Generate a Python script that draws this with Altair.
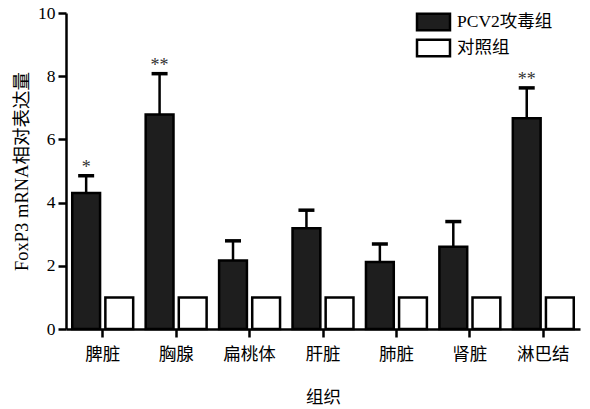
import altair as alt
import pandas as pd

# Relative FoxP3 mRNA expression per tissue
tissues = ["脾脏", "胸腺", "扁桃体", "肝脏", "肺脏", "肾脏", "淋巴结"]
groups = ["PCV2攻毒组", "对照组"]
pcv2_mean = [4.30, 6.79, 2.17, 3.19, 2.12, 2.60, 6.67]
pcv2_sd = [0.55, 1.29, 0.62, 0.57, 0.57, 0.80, 0.96]
control_mean = [1.0, 1.0, 1.0, 1.0, 1.0, 1.0, 1.0]
significance = ["*", "**", "", "", "", "", "**"]

rows = []
for t, m, s, k in zip(tissues, pcv2_mean, pcv2_sd, significance):
    rows.append({"组织": t, "组别": groups[0], "值": m, "上限": m + s, "标记": k})
for t, c in zip(tissues, control_mean):
    rows.append({"组织": t, "组别": groups[1], "值": c, "上限": c, "标记": ""})
df = pd.DataFrame(rows)
pcv2 = df[df["组别"] == groups[0]]

FONT = "Liberation Serif, Noto Sans CJK SC"

x_enc = alt.X(
    "组织:N",
    sort=tissues,
    scale=alt.Scale(paddingInner=0.17, paddingOuter=0.085),
    axis=alt.Axis(title="组织", labelAngle=0, labelPadding=8, titlePadding=26),
)
xoff_enc = alt.XOffset(
    "组别:N",
    sort=groups,
    scale=alt.Scale(domain=groups, paddingInner=0.16, paddingOuter=0),
)
y_enc = alt.Y(
    "值:Q",
    scale=alt.Scale(domain=[0, 10]),
    axis=alt.Axis(values=[0, 2, 4, 6, 8, 10], title="FoxP3 mRNA相对表达量",
                  labelPadding=3, titlePadding=6, titleFontSize=18.5),
)

bars = alt.Chart(df).mark_bar(stroke="black", strokeWidth=2.5).encode(
    x=x_enc,
    xOffset=xoff_enc,
    y=y_enc,
    fill=alt.Fill(
        "组别:N",
        sort=groups,
        scale=alt.Scale(domain=groups, range=["#1e1e1e", "#ffffff"]),
        legend=alt.Legend(
            title=None,
            orient="none",
            legendX=358,
            legendY=-0.5,
            padding=0,
            symbolType="M-2,-1H2V1H-2Z",
            symbolSize=272,
            symbolStrokeColor="black",
            symbolStrokeWidth=2.5,
            symbolOpacity=1,
            labelFont=FONT,
            labelFontSize=17.5,
            labelColor="black",
            labelOffset=14,
            rowPadding=-1,
        ),
    ),
)

err = alt.Chart(pcv2).mark_rule(color="black", strokeWidth=2.5).encode(
    x=x_enc, xOffset=xoff_enc, y="值:Q", y2="上限:Q"
)

cap = alt.Chart(pcv2).mark_tick(color="black", size=16, thickness=3.5, opacity=1).encode(
    x=x_enc, xOffset=xoff_enc, y="上限:Q"
)

stars = alt.Chart(pcv2).mark_text(
    font=FONT, fontSize=18, color="#333333", dy=-8, baseline="middle"
).encode(x=x_enc, xOffset=xoff_enc, y="上限:Q", text="标记:N")

chart = (
    alt.layer(bars, err, cap, stars)
    .properties(
        width=514,
        height=316,
        padding={"left": 66, "top": 13, "right": 10, "bottom": 80},
        autosize=alt.AutoSizeParams(type="none"),
        background="white",
    )
    .configure_view(stroke=None)
    .configure_axis(
        grid=False,
        domainColor="black",
        domainWidth=2.5,
        tickColor="black",
        tickWidth=2.5,
        tickSize=8,
        labelFont=FONT,
        labelFontSize=17.5,
        labelColor="black",
        titleFont=FONT,
        titleFontSize=17.5,
        titleFontWeight="normal",
        titleColor="black",
    )
)

chart.save("out.html", embed_options={"renderer": "svg", "actions": False})
